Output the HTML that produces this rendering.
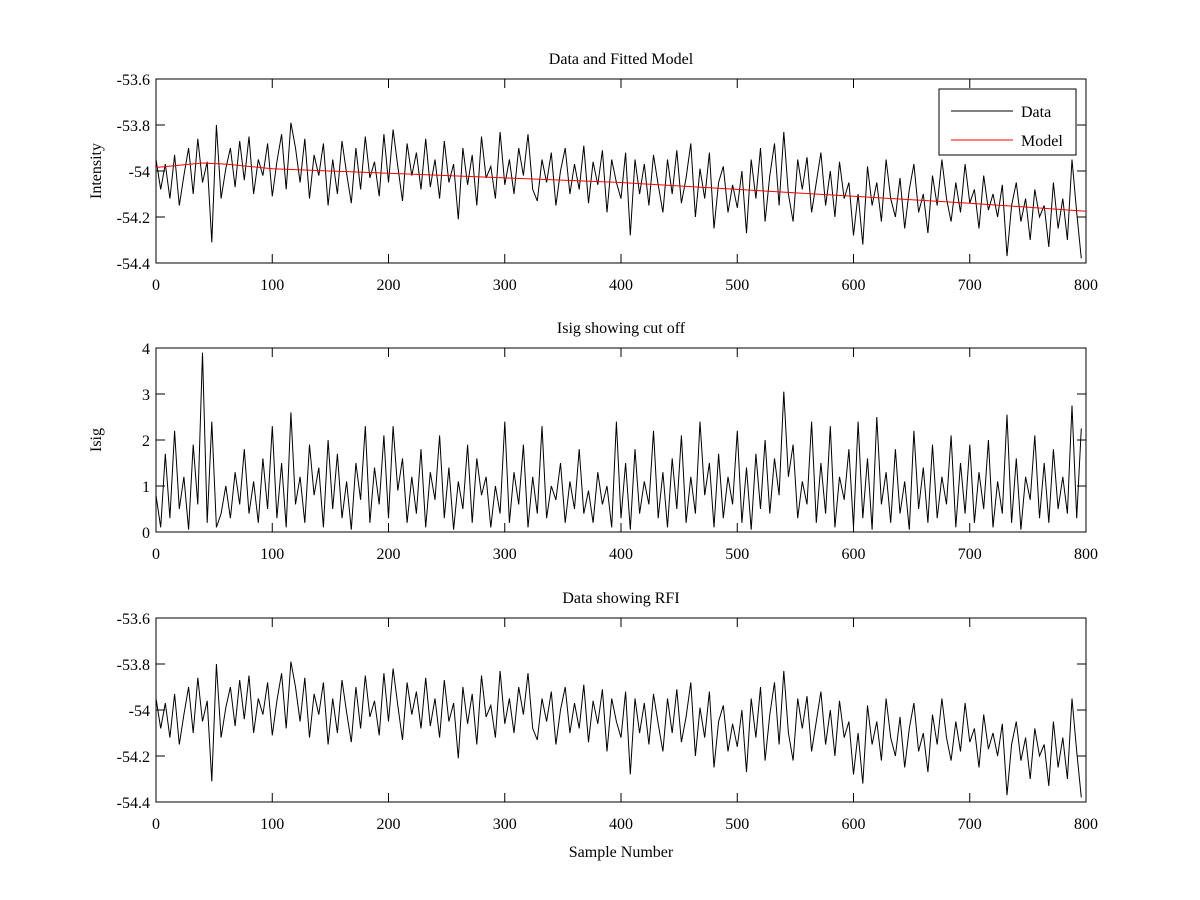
<!DOCTYPE html>
<html><head><meta charset="utf-8"><style>
body{margin:0;background:#fff}
svg{display:block}
text{font-family:"Liberation Serif",serif;font-size:16px;fill:#000}
</style></head><body>
<svg id="fig" width="1200" height="900" viewBox="0 0 1200 900"></svg>
<script>
const xTicks=[0,100,200,300,400,500,600,700,800];
const intensityTicks=[-53.6,-53.8,-54,-54.2,-54.4];
const intensityTickLabels=["-53.6","-53.8","-54","-54.2","-54.4"];
const isigTicks=[0,1,2,3,4];
const isigTickLabels=["0","1","2","3","4"];
const sampleStep=4;
const intensity=[
-53.95,-54.08,-53.97,-54.12,-53.93,-54.15,-54.02,-53.9,-54.1,-53.86,-54.05,-53.96,-54.31,-53.8,-54.12,-53.99,-53.9,-54.07,-53.87,-54.04,-53.85,-54.1,-53.95,-54.02,-53.88,
-54.11,-53.96,-53.84,-54.08,-53.79,-53.9,-54.05,-53.86,-54.12,-53.93,-54.02,-53.88,-54.15,-53.95,-54.1,-53.87,-54.01,-54.14,-53.9,-54.08,-53.85,-54.03,-53.96,-54.11,-53.84,
-54.05,-53.82,-53.98,-54.13,-53.88,-54.02,-53.92,-54.08,-53.86,-54.07,-53.95,-54.12,-53.87,-54.05,-53.97,-54.21,-53.9,-54.06,-53.93,-54.15,-53.85,-54.03,-53.98,-54.12,-53.83,
-54.06,-53.95,-54.1,-53.9,-54.02,-53.84,-54.08,-54.13,-53.95,-54.05,-53.92,-54.15,-54.0,-53.9,-54.1,-53.97,-54.08,-53.89,-54.14,-53.96,-54.06,-53.91,-54.18,-53.95,-54.05,
-54.12,-53.92,-54.28,-53.95,-54.1,-53.97,-54.15,-53.93,-54.06,-54.18,-53.95,-54.1,-53.91,-54.14,-54.03,-53.88,-54.2,-53.99,-54.12,-53.92,-54.25,-54.05,-53.98,-54.18,-54.06,
-54.16,-54.0,-54.27,-53.95,-54.12,-53.9,-54.22,-54.02,-53.88,-54.15,-53.83,-54.1,-54.22,-53.95,-54.08,-53.94,-54.18,-54.05,-53.92,-54.15,-54.0,-54.2,-53.96,-54.12,-54.05,
-54.28,-54.1,-54.32,-53.98,-54.15,-54.05,-54.22,-53.95,-54.12,-54.2,-54.03,-54.25,-54.08,-53.97,-54.18,-54.1,-54.27,-54.02,-54.15,-53.95,-54.12,-54.22,-54.05,-54.18,-53.97,
-54.14,-54.08,-54.25,-54.02,-54.17,-54.1,-54.2,-54.06,-54.37,-54.15,-54.05,-54.22,-54.12,-54.3,-54.08,-54.2,-54.15,-54.33,-54.05,-54.25,-54.12,-54.3,-53.95,-54.18,-54.38];
const isig=[
0.8,0.1,1.7,0.3,2.2,0.5,1.2,0.05,1.9,0.6,3.9,0.2,2.4,0.1,0.4,1.0,0.3,1.3,0.6,1.8,0.4,1.1,0.2,1.6,0.5,
2.3,0.3,1.5,0.1,2.6,0.6,1.2,0.2,1.9,0.8,1.4,0.1,2.0,0.5,1.7,0.3,1.1,0.05,1.5,0.7,2.3,0.2,1.4,0.6,2.1,
0.3,2.3,0.9,1.6,0.2,1.2,0.4,1.8,0.1,1.3,0.7,2.1,0.3,1.4,0.05,1.1,0.5,1.9,0.2,1.6,0.8,1.2,0.1,1.0,0.4,
2.4,0.2,1.3,0.6,1.9,0.1,1.2,0.4,2.3,0.3,1.0,0.7,1.5,0.2,1.1,0.5,1.8,0.4,0.9,0.2,1.3,0.6,1.0,0.1,2.4,
0.3,1.5,0.05,1.8,0.4,1.1,0.6,2.2,0.3,1.3,0.1,1.6,0.5,2.1,0.2,1.2,0.4,2.4,0.8,1.5,0.1,1.7,0.3,1.2,0.6,
2.2,0.2,1.4,0.05,1.7,0.5,2.0,0.4,1.6,0.8,3.05,1.2,1.9,0.3,1.1,0.6,2.4,0.2,1.5,0.4,2.3,0.1,1.2,0.7,1.8,
0.1,2.4,0.3,1.6,0.05,2.5,0.6,1.3,0.2,1.8,0.4,1.1,0.05,2.2,0.5,1.4,0.2,1.9,0.3,1.2,0.6,2.1,0.1,1.5,0.4,
1.9,0.2,1.3,0.5,2.0,0.1,1.1,0.4,2.55,0.2,1.6,0.05,1.2,0.7,2.1,0.3,1.5,0.2,1.8,0.5,1.2,0.4,2.75,0.3,2.25];
const modelX=[0,20,40,60,100,200,300,400,500,600,700,800];
const modelY=[-53.985,-53.975,-53.965,-53.97,-53.99,-54.01,-54.03,-54.05,-54.08,-54.11,-54.14,-54.175];

const NS="http://www.w3.org/2000/svg";
const svg=document.getElementById('fig');
function mk(tag,attrs,parent){const e=document.createElementNS(NS,tag);for(const k in attrs)e.setAttribute(k,attrs[k]);(parent||svg).appendChild(e);return e;}
const L=156,R=1086;
function xs(v){return L+(v-0)/(800-0)*(R-L);}
function axes(name,top,bot,ymin,ymax,yt,ytl,title,ylabel,xlabel){
  const g=mk('g',{});
  
  
  const ys=v=>bot-(v-ymin)/(ymax-ymin)*(bot-top);
  const fr=mk('rect',{x:L,y:top,width:R-L,height:bot-top,fill:'#fff',stroke:'#000','stroke-width':1},g);
  
  
  xTicks.forEach(t=>{const x=xs(t);
    mk('line',{x1:x,y1:bot,x2:x,y2:bot-9,stroke:'#000'},g);
    mk('line',{x1:x,y1:top,x2:x,y2:top+9,stroke:'#000'},g);
    const tx=mk('text',{x:x,y:bot+27,'text-anchor':'middle'},g);tx.textContent=t;
    
    
  });
  yt.forEach((t,i)=>{const y=ys(t);
    mk('line',{x1:L,y1:y,x2:L+9,y2:y,stroke:'#000'},g);
    mk('line',{x1:R,y1:y,x2:R-9,y2:y,stroke:'#000'},g);
    const tx=mk('text',{x:L-6,y:y+6,'text-anchor':'end'},g);tx.textContent=ytl[i];
    
    
  });
  const tt=mk('text',{x:(L+R)/2,y:top-15,'text-anchor':'middle'},g);tt.textContent=title;
  
  
  if(ylabel){const yl=mk('text',{x:0,y:0,'text-anchor':'middle',transform:`translate(101,${(top+bot)/2}) rotate(-90)`},g);yl.textContent=ylabel;
    
    }
  if(xlabel){const xl=mk('text',{x:(L+R)/2,y:bot+55,'text-anchor':'middle'},g);xl.textContent=xlabel;
    
    }
  return {g,ys};
}
function series(ax,xsArr,ysArr,color,name){
  const pts=ysArr.map((v,i)=>xs(xsArr(i)).toFixed(1)+','+ax.ys(v).toFixed(1)).join(' ');
  const p=mk('polyline',{points:pts,fill:'none',stroke:color,'stroke-width':1},ax.g);
  
  
}
const a1=axes('data-and-model-axes',79,263,-54.4,-53.6,intensityTicks,intensityTickLabels,'Data and Fitted Model','Intensity',null);
series(a1,i=>i*sampleStep,intensity,'#000','data-line');
series(a1,i=>modelX[i],modelY,'#f00','model-line');
// legend
const lg=mk('g',{},a1.g);


mk('rect',{x:939,y:89,width:137,height:66,fill:'#fff',stroke:'#000'},lg);
mk('line',{x1:951,y1:111,x2:1013,y2:111,stroke:'#000'},lg);
mk('line',{x1:951,y1:140,x2:1013,y2:140,stroke:'#f00'},lg);
const l1=mk('text',{x:1021,y:117},lg);l1.textContent='Data';


const l2=mk('text',{x:1021,y:146},lg);l2.textContent='Model';



const a2=axes('isig-axes',348,532,0,4,isigTicks,isigTickLabels,'Isig showing cut off','Isig',null);
series(a2,i=>i*sampleStep,isig,'#000','isig-line');

const a3=axes('rfi-axes',618,802,-54.4,-53.6,intensityTicks,intensityTickLabels,'Data showing RFI',null,'Sample Number');
series(a3,i=>i*sampleStep,intensity,'#000','rfi-data-line');
</script>
</body></html>
